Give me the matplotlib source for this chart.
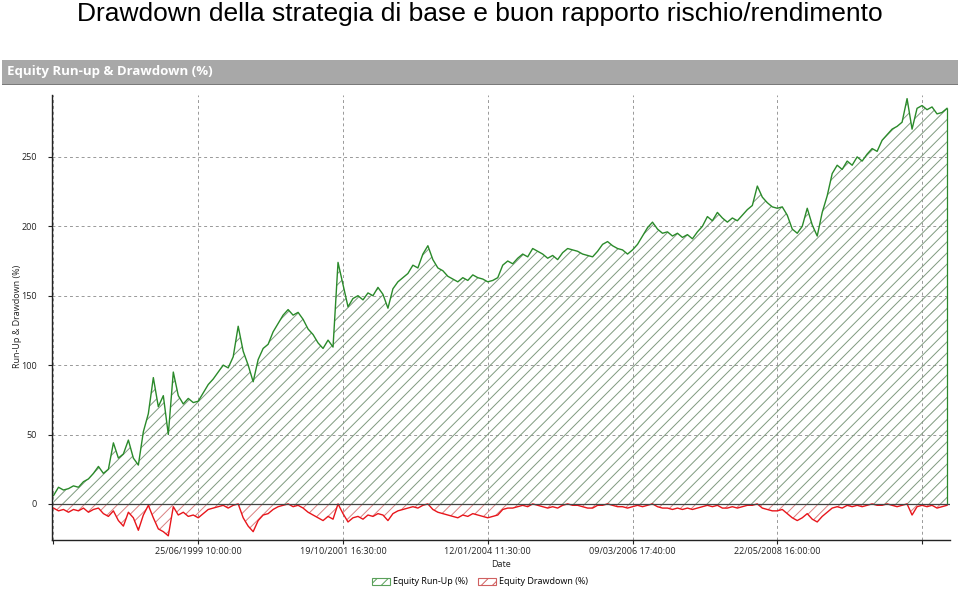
import numpy as np
import matplotlib
matplotlib.use("Agg")
import matplotlib.pyplot as plt
from matplotlib.patches import Patch, Rectangle

# run-up (%) and drawdown (%) sampled at regular bar steps
runup = [6, 12, 10, 11, 13, 12, 16, 18, 22, 27,
         22, 25, 44, 33, 36, 46, 33, 28, 52, 65,
         91, 70, 78, 50, 95, 78, 72, 76, 73, 74,
         80, 86, 90, 95, 100, 98, 106, 128, 110, 100,
         88, 104, 112, 115, 124, 130, 136, 140, 136, 138,
         133, 126, 122, 116, 112, 118, 113, 174, 158, 142,
         148, 150, 147, 152, 150, 156, 151, 141, 155, 160,
         163, 166, 172, 170, 180, 186, 176, 170, 168, 164,
         162, 160, 163, 161, 165, 163, 162, 160, 161, 163,
         172, 175, 173, 177, 180, 178, 184, 182, 180, 177,
         179, 176, 181, 184, 183, 182, 180, 179, 178, 182,
         187, 189, 186, 184, 183, 180, 183, 187, 193, 199,
         203, 198, 195, 196, 193, 195, 192, 194, 191, 196,
         200, 207, 204, 210, 206, 203, 206, 204, 208, 212,
         215, 229, 221, 217, 214, 213, 214, 208, 198, 195,
         200, 213, 201, 193, 210, 222, 238, 244, 241, 247,
         244, 250, 247, 252, 256, 254, 262, 266, 270, 272,
         275, 292, 270, 285, 287, 284, 286, 281, 282, 285]

drawdown = [-3, -5, -4, -6, -4, -5, -3, -6, -4, -3,
            -7, -9, -5, -12, -16, -6, -10, -19, -8, -1,
            -10, -18, -20, -23, -2, -8, -6, -9, -8, -10,
            -7, -4, -3, -2, -1, -3, -1, 0, -10, -16,
            -20, -12, -8, -7, -4, -2, -1, 0, -2, -1,
            -3, -6, -8, -10, -12, -9, -11, 0, -7, -13,
            -10, -9, -11, -8, -9, -7, -8, -12, -7, -5,
            -4, -3, -2, -3, -1, 0, -4, -6, -7, -8,
            -9, -10, -8, -9, -7, -8, -9, -10, -9, -8,
            -4, -3, -3, -2, -1, -2, 0, -1, -2, -3,
            -2, -3, -1, 0, -1, -1, -2, -3, -3, -1,
            -1, 0, -1, -2, -2, -3, -2, -1, -2, -1,
            0, -2, -3, -3, -4, -3, -4, -3, -4, -3,
            -2, -1, -2, -1, -3, -3, -2, -3, -2, -1,
            -1, 0, -3, -4, -5, -5, -4, -7, -10, -12,
            -10, -7, -11, -13, -9, -6, -3, -2, -3, -1,
            -2, -1, -2, -1, 0, -1, -1, 0, -1, -2,
            -1, 0, -8, -2, -1, -2, -1, -3, -2, -1]

tick_bars = [0, 29, 58, 87, 116, 145, 174]
tick_labels = ["", "25/06/1999 10:00:00", "19/10/2001 16:30:00", "12/01/2004 11:30:00",
               "09/03/2006 17:40:00", "22/05/2008 16:00:00", ""]
y_ticks = [0, 50, 100, 150, 200, 250]

green = "#2a8a2a"
red = "#e8151b"
txt = "#222222"
plt.rcParams['hatch.linewidth'] = 0.7

fig = plt.figure(figsize=(9.6, 5.92), dpi=100)

# slide title
fig.text(0.5, 0.977, "Drawdown della strategia di base e buon rapporto rischio/rendimento",
         ha="center", va="center", fontsize=19, family="Liberation Sans")

# grey header bar
fig.patches.append(Rectangle((2/960, 1 - 84/592), 956/960, 24/592, transform=fig.transFigure,
                             facecolor="#a8a8a8", edgecolor="none"))
fig.patches.append(Rectangle((2/960, 1 - 85/592), 956/960, 1.5/592, transform=fig.transFigure,
                             facecolor="#7a7a7a", edgecolor="none"))
fig.text(7/960, 1 - 72/592, "Equity Run-up & Drawdown (%)", ha="left", va="center",
         fontsize=9.5, fontweight="bold", color="white", family="Open Sans")

ax = fig.add_axes([52/960, 52/592, 898/960, 445/592])
x = np.arange(len(runup))

ax.fill_between(x, 0, runup, facecolor="none", edgecolor="#7f9a7f", hatch="///", linewidth=0)
ax.fill_between(x, 0, drawdown, facecolor="none", edgecolor="#d98080", hatch="///", linewidth=0)
ax.plot(x, runup, color=green, lw=1.0)
ax.plot(x, drawdown, color=red, lw=1.0)
ax.vlines(x[-1], 0, runup[-1], color=green, lw=0.9)
ax.axhline(0, color="#444444", lw=0.9)

ax.set_xlim(-0.3, 179.6)
ax.set_ylim(-26, 294.6)
ax.set_xticks(tick_bars)
ax.set_xticklabels(tick_labels, fontsize=6.5, family="Open Sans", color=txt)
ax.set_yticks(y_ticks)
ax.set_yticklabels([str(v) for v in y_ticks], fontsize=6.5, family="Open Sans", color=txt)
ax.tick_params(axis="y", length=3, width=0.8, color=txt, pad=8)
ax.tick_params(axis="x", length=3, width=0.8, color=txt, pad=2)
ax.grid(True, color="#999999", ls=(0, (3, 3)), lw=0.7)
ax.set_axisbelow(True)
for s in ["top", "right"]:
    ax.spines[s].set_visible(False)
for s in ["left", "bottom"]:
    ax.spines[s].set_color(txt)
    ax.spines[s].set_linewidth(1.0)

ax.set_xlabel("Date", fontsize=6.5, family="Open Sans", color=txt, labelpad=3)
fig.text(18/960, 1 - 316/592, "Run-Up & Drawdown (%)", rotation=90, ha="center", va="center",
         fontsize=6.5, family="Open Sans", color=txt)

handles = [Patch(facecolor="white", edgecolor="#5aa05a", hatch="///", lw=0.8),
           Patch(facecolor="white", edgecolor="#d06060", hatch="///", lw=0.8)]
fig.legend(handles, ["Equity Run-Up (%)", "Equity Drawdown (%)"], loc="center",
           bbox_to_anchor=(0.5, 1 - 582/592), ncol=2, frameon=False,
           prop={"family": "Open Sans", "size": 6.5}, handlelength=2.0, handleheight=0.9,
           columnspacing=1.2, handletextpad=0.3, borderpad=0.1)

fig.savefig("out.png", dpi=100)
